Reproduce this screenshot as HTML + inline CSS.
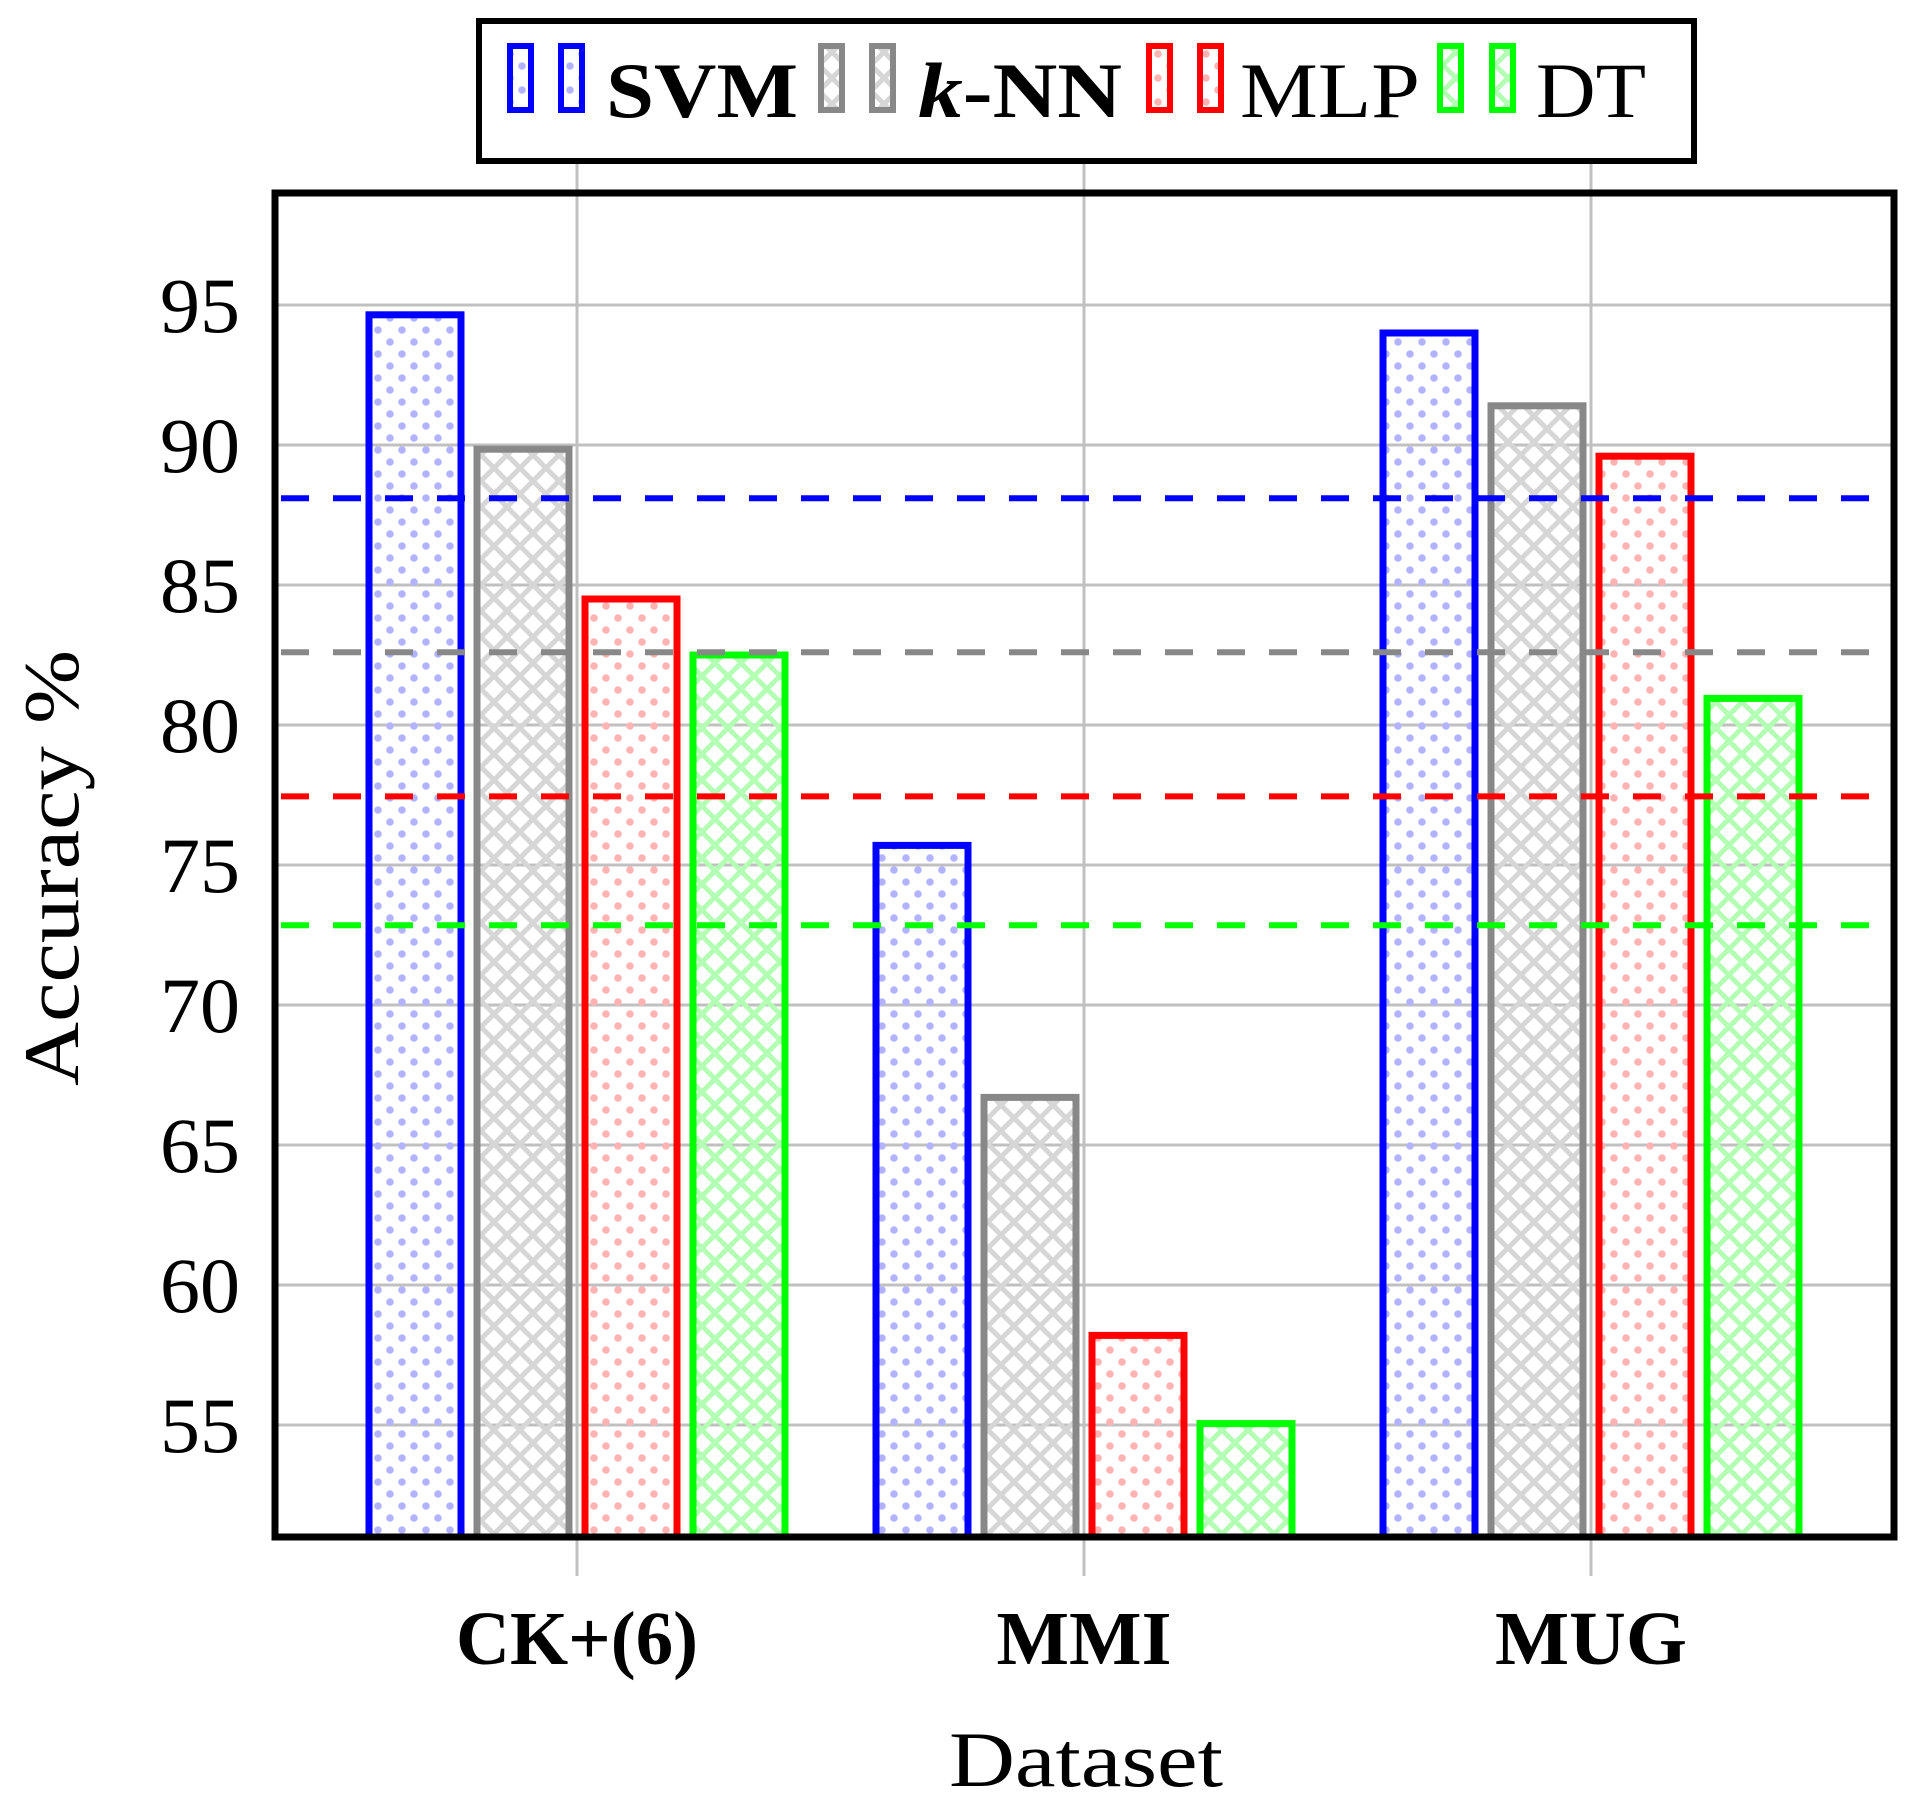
<!DOCTYPE html>
<html><head><meta charset="utf-8"><style>body{margin:0;background:#fff}svg{display:block}text{font-family:"Liberation Serif",serif}</style></head>
<body>
<svg id="chart" width="1918" height="1803" viewBox="0 0 1918 1803" xmlns="http://www.w3.org/2000/svg">
<defs>
<pattern id="dots-blue" width="24" height="24" patternUnits="userSpaceOnUse"><circle cx="6" cy="6" r="3.8" fill="#b3b3ff"/><circle cx="18" cy="18" r="3.8" fill="#b3b3ff"/></pattern>
<pattern id="dots-red" width="24" height="24" patternUnits="userSpaceOnUse"><circle cx="6" cy="6" r="3.8" fill="#ffb3b3"/><circle cx="18" cy="18" r="3.8" fill="#ffb3b3"/></pattern>
<pattern id="hatch-gray" width="26" height="26" patternUnits="userSpaceOnUse"><path d="M-2,-2L28,28M28,-2L-2,28" stroke="#d6d6d6" stroke-width="5"/></pattern>
<pattern id="hatch-green" width="26" height="26" patternUnits="userSpaceOnUse"><path d="M-2,-2L28,28M28,-2L-2,28" stroke="#b3ffb3" stroke-width="5"/></pattern>
</defs>
<g id="grid"></g>
<g id="bars"></g>
<g id="refs"></g>
<rect x="275" y="193" width="1619" height="1344" fill="none" stroke="#000" stroke-width="7"/>
<g id="labels"></g>
<text x="1086" y="1786" font-size="78" text-anchor="middle" textLength="274" lengthAdjust="spacingAndGlyphs">Dataset</text>
<text transform="translate(78,868) rotate(-90)" font-size="78" text-anchor="middle" textLength="436" lengthAdjust="spacingAndGlyphs">Accuracy %</text>
<g>
<rect x="479" y="21" width="1215" height="140" fill="#fff" stroke="#000" stroke-width="6"/>
<g><rect x="510" y="46" width="21" height="64" fill="url(#dots-blue)" stroke="#00f" stroke-width="6"/><rect x="561" y="46" width="21" height="64" fill="url(#dots-blue)" stroke="#00f" stroke-width="6"/><text x="606" y="117" font-size="78" font-weight="bold" textLength="192" lengthAdjust="spacingAndGlyphs">SVM</text></g>
<g><rect x="821" y="46" width="21" height="64" fill="url(#hatch-gray)" stroke="#888" stroke-width="6"/><rect x="872" y="46" width="21" height="64" fill="url(#hatch-gray)" stroke="#888" stroke-width="6"/><text x="918" y="117" font-size="78" font-weight="bold" textLength="204" lengthAdjust="spacingAndGlyphs"><tspan font-style="italic">k</tspan>-NN</text></g>
<g><rect x="1149" y="46" width="21" height="64" fill="url(#dots-red)" stroke="#f00" stroke-width="6"/><rect x="1200" y="46" width="21" height="64" fill="url(#dots-red)" stroke="#f00" stroke-width="6"/><text x="1240" y="117" font-size="78" textLength="180" lengthAdjust="spacingAndGlyphs">MLP</text></g>
<g><rect x="1440" y="46" width="21" height="64" fill="url(#hatch-green)" stroke="#0f0" stroke-width="6"/><rect x="1492" y="46" width="21" height="64" fill="url(#hatch-green)" stroke="#0f0" stroke-width="6"/><text x="1536" y="117" font-size="78" textLength="110" lengthAdjust="spacingAndGlyphs">DT</text></g>
</g>
</svg>
<script>
const categories = ["CK+(6)", "MMI", "MUG"];
const seriesNames = ["SVM", "k-NN", "MLP", "DT"];
const svmValues = [94.65, 75.7, 94.0];
const knnValues = [89.85, 66.7, 91.4];
const mlpValues = [84.5, 58.2, 89.6];
const dtValues = [82.5, 55.05, 80.95];
const averageValues = [88.1, 82.6, 77.45, 72.85];
const yTicks = [55, 60, 65, 70, 75, 80, 85, 90, 95];

const NS = "http://www.w3.org/2000/svg";
const yMin = 51.0, yMax = 99, plotTop = 193, plotBottom = 1537, plotLeft = 275, plotRight = 1894;
function yScale(v){ return plotBottom - (v - yMin) / (yMax - yMin) * (plotBottom - plotTop); }
function xCenter(i){ return 577 + i * 507; }
function mk(tag, attrs, parent){ const e = document.createElementNS(NS, tag); for (const k in attrs) e.setAttribute(k, attrs[k]); parent.appendChild(e); return e; }
const gridG = document.getElementById("grid"), barsG = document.getElementById("bars"), refsG = document.getElementById("refs"), labelsG = document.getElementById("labels");
const xLabelWidths = [242, 175, 192];
yTicks.forEach(t => {
  const l = mk("line", {x1: plotLeft, x2: plotRight, y1: yScale(t), y2: yScale(t), stroke: "#c0c0c0", "stroke-width": 3}, gridG);
  
  
  const tx = mk("text", {x: 240, y: yScale(t) + 27, "font-size": 78, "text-anchor": "end", textLength: 80, lengthAdjust: "spacingAndGlyphs"}, labelsG);
  tx.textContent = t;
  
  
});
categories.forEach((c, i) => {
  const l = mk("line", {x1: xCenter(i), x2: xCenter(i), y1: 161, y2: 1576, stroke: "#c0c0c0", "stroke-width": 3}, gridG);
  
  
  const tx = mk("text", {x: xCenter(i), y: 1664, "font-size": 76, "font-weight": "bold", "text-anchor": "middle", textLength: xLabelWidths[i], lengthAdjust: "spacingAndGlyphs"}, labelsG);
  tx.textContent = c;
  
  
});
const series = [svmValues, knnValues, mlpValues, dtValues];
const fills = ["url(#dots-blue)", "url(#hatch-gray)", "url(#dots-red)", "url(#hatch-green)"];
const strokes = ["#0000ff", "#888888", "#ff0000", "#00ff00"];
const offsets = [-162, -54, 54, 162];
series.forEach((vals, s) => {
  vals.forEach((v, i) => {
    const cx = xCenter(i) + offsets[s];
    const r = mk("rect", {x: cx - 46, y: yScale(v), width: 92, height: plotBottom - yScale(v), fill: fills[s], stroke: strokes[s], "stroke-width": 7}, barsG);
    
    
  });
});
averageValues.forEach((v, s) => {
  const l = mk("line", {x1: plotLeft + 6, x2: plotRight, y1: yScale(v), y2: yScale(v), stroke: strokes[s], "stroke-width": 6, "stroke-dasharray": "28 24"}, refsG);
  
  
});
</script>
</body></html>
